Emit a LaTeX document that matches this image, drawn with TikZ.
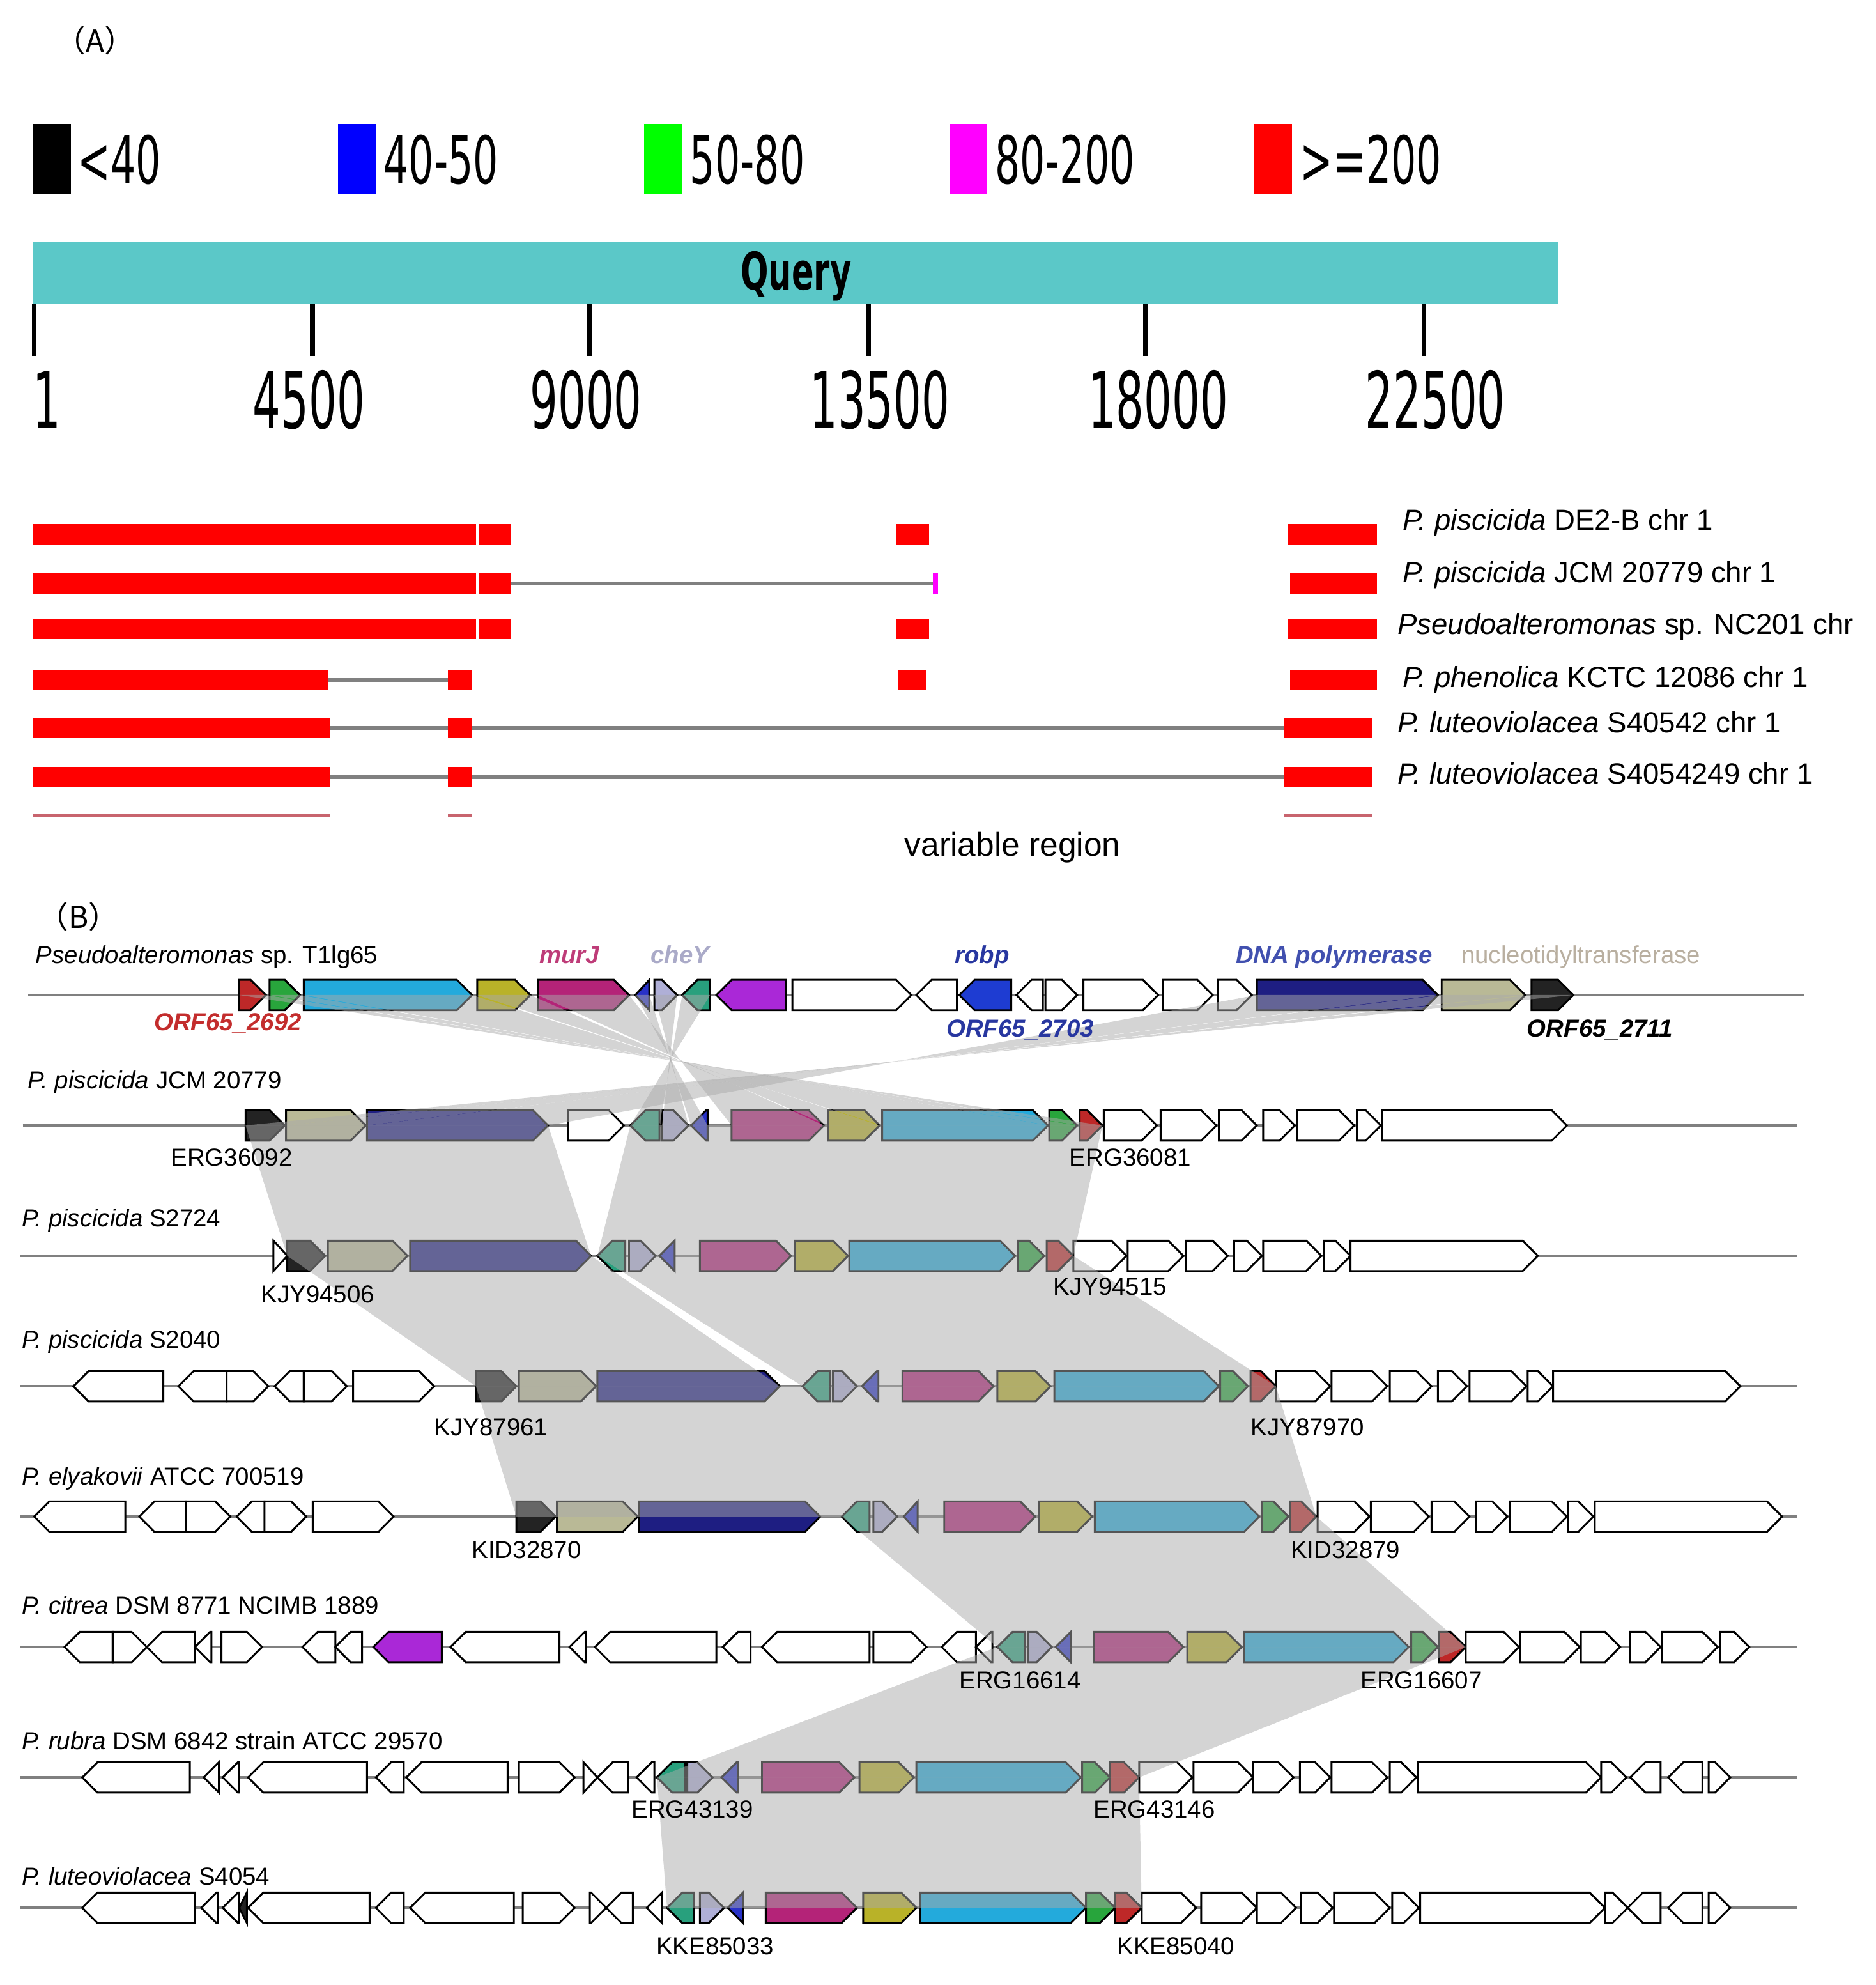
\documentclass[tikz,border=0pt]{standalone}
\usepackage{fontspec}
\usepackage{graphicx}
\setmainfont{Liberation Sans}
\newfontfamily\djv{DejaVu Sans}
\newfontfamily\cjk{Noto Sans CJK SC}
\definecolor{qcol}{RGB}{91,200,200}
\definecolor{lgray}{RGB}{128,128,128}
\definecolor{bandc}{RGB}{170,170,170}
\definecolor{pRed}{RGB}{255,0,0}
\definecolor{pGreen}{RGB}{0,255,0}
\definecolor{pBlue}{RGB}{0,0,255}
\definecolor{pMag}{RGB}{255,0,255}
\definecolor{cRed}{RGB}{190,40,40}
\definecolor{cGrn}{RGB}{40,165,60}
\definecolor{cCyan}{RGB}{35,170,220}
\definecolor{cOlive}{RGB}{185,178,40}
\definecolor{cMag}{RGB}{180,35,120}
\definecolor{cBlue}{RGB}{40,50,200}
\definecolor{cLav}{RGB}{175,175,215}
\definecolor{cTeal}{RGB}{40,160,125}
\definecolor{cPurp}{RGB}{170,40,215}
\definecolor{cRobp}{RGB}{30,60,210}
\definecolor{cNavy}{RGB}{30,30,130}
\definecolor{cKhaki}{RGB}{185,185,150}
\definecolor{cBlk}{RGB}{35,35,35}
\definecolor{tMur}{RGB}{190,60,120}
\definecolor{tChe}{RGB}{170,170,200}
\definecolor{tBlu}{RGB}{40,55,160}
\definecolor{tDna}{RGB}{65,80,175}
\definecolor{tNuc}{RGB}{185,175,160}
\definecolor{tOrf}{RGB}{195,45,45}
\definecolor{thinred}{RGB}{200,100,110}
\newcommand\genearrow[4]{%
  \pgfmathsetmacro\hl{min(12,#2-#1)}%
  \if#3R
    \filldraw[genestyle,fill=#4] (#1,\ry-12) -- ({#2-\hl},\ry-12) -- (#2,\ry) -- ({#2-\hl},\ry+12) -- (#1,\ry+12) -- cycle;
  \else
    \filldraw[genestyle,fill=#4] (#2,\ry-12) -- ({#1+\hl},\ry-12) -- (#1,\ry) -- ({#1+\hl},\ry+12) -- (#2,\ry+12) -- cycle;
  \fi}
\newcommand\xband[6]{\fill[bandstyle] (#3,#1) -- (#4,#1) -- (#5,#2) -- (#6,#2) -- cycle;}
\newcommand\pband[6]{\fill[bandstyle] (#3,#1) -- (#4,#1) -- (#6,#2) -- (#5,#2) -- cycle;}
\tikzset{
  genestyle/.style={draw=black,line width=1.5pt,line join=miter},
  bandstyle/.style={fill=bandc,fill opacity=0.5},
  bbone/.style={draw=lgray,line width=2pt},
  gapline/.style={draw=lgray,line width=3pt},
  lbl/.style={inner sep=0pt,anchor=base,font=\fontsize{19.4}{22}\selectfont},
  rlbl/.style={inner sep=0pt,anchor=base west,font=\fontsize{19.4}{22}\selectfont},
  albl/.style={inner sep=0pt,anchor=base west,font=\fontsize{23}{26}\selectfont},
  leg/.style={inner sep=0pt,anchor=west},
  tick/.style={draw=black,line width=4pt},
  tlbl/.style={inner sep=0pt},
}
\begin{document}
\begin{tikzpicture}[x=1pt,y=-1pt]
\useasboundingbox (0,0) rectangle (1482,1568);
% ---------------- (A) ----------------
\node[inner sep=0pt] (labA) at (75,32) {\cjk\fontsize{24}{28}\selectfont （A）};
% legend
\fill[black] (26,98) rectangle (56,153);
\fill[pBlue] (267,98) rectangle (297,153);
\fill[pGreen] (509,98) rectangle (539,153);
\fill[pMag] (750,98) rectangle (780,153);
\fill[pRed] (991,98) rectangle (1021,153);
\node[leg] (lg1) at (61,126) {\scalebox{0.6}[1]{\djv\fontsize{52}{60}\selectfont <40}};
\node[leg] (lg2) at (303,126) {\scalebox{0.6}[1]{\djv\fontsize{52}{60}\selectfont 40-50}};
\node[leg] (lg3) at (545,126) {\scalebox{0.6}[1]{\djv\fontsize{52}{60}\selectfont 50-80}};
\node[leg] (lg4) at (786,126) {\scalebox{0.6}[1]{\djv\fontsize{52}{60}\selectfont 80-200}};
\node[leg] (lg5) at (1027,126) {\scalebox{0.6}[1]{\djv\fontsize{52}{60}\selectfont >=200}};
% query bar
\fill[qcol] (26,191) rectangle (1231,240);
\node[inner sep=0pt,anchor=base] (query) at (629,229) {\scalebox{0.63}[1]{\djv\bfseries\fontsize{41}{46}\selectfont Query}};
\foreach \x in {27,247,466,686,905,1125} {\draw[tick] (\x,240) -- (\x,281);}
\node[tlbl] (t1) at (37,316) {\scalebox{0.56}[1]{\djv\fontsize{62}{70}\selectfont 1}};
\node[tlbl] (t2) at (244,316) {\scalebox{0.56}[1]{\djv\fontsize{62}{70}\selectfont 4500}};
\node[tlbl] (t3) at (463,316) {\scalebox{0.56}[1]{\djv\fontsize{62}{70}\selectfont 9000}};
\node[tlbl] (t4) at (695,316) {\scalebox{0.56}[1]{\djv\fontsize{62}{70}\selectfont 13500}};
\node[tlbl] (t5) at (915,316) {\scalebox{0.56}[1]{\djv\fontsize{62}{70}\selectfont 18000}};
\node[tlbl] (t6) at (1134,316) {\scalebox{0.56}[1]{\djv\fontsize{62}{70}\selectfont 22500}};
% hit rows
\draw[gapline] (404,461) -- (738,461);
\draw[gapline] (259,537) -- (354,537);
\draw[gapline] (261,575) -- (1014,575);
\draw[gapline] (261,614) -- (1014,614);
\foreach \y in {422,497} {
  \fill[pRed] (26,\y-8) rectangle (376,\y+8);
  \fill[pRed] (378,\y-8) rectangle (404,\y+8);
  \fill[pRed] (708,\y-8) rectangle (734,\y+8);
  \fill[pRed] (1017,\y-8) rectangle (1088,\y+8);
}
\fill[pRed] (26,453) rectangle (376,469);
\fill[pRed] (378,453) rectangle (404,469);
\fill[pMag] (737,453) rectangle (741,469);
\fill[pRed] (1019,453) rectangle (1088,469);
\fill[pRed] (26,529) rectangle (259,545);
\fill[pRed] (354,529) rectangle (373,545);
\fill[pRed] (710,529) rectangle (732,545);
\fill[pRed] (1019,529) rectangle (1088,545);
\foreach \y in {575,614} {
  \fill[pRed] (26,\y-8) rectangle (261,\y+8);
  \fill[pRed] (354,\y-8) rectangle (373,\y+8);
  \fill[pRed] (1014,\y-8) rectangle (1084,\y+8);
}
\fill[thinred] (26,643) rectangle (261,645);
\fill[thinred] (354,643) rectangle (373,645);
\fill[thinred] (1014,643) rectangle (1084,645);
\node[albl] (a1) at (1108,419) {\textit{P. piscicida} DE2-B chr 1};
\node[albl] (a2) at (1108,460) {\textit{P. piscicida} JCM 20779 chr 1};
\node[albl] (a3) at (1104,501) {\textit{Pseudoalteromonas} sp. NC201 chr};
\node[albl] (a4) at (1108,543) {\textit{P. phenolica} KCTC 12086 chr 1};
\node[albl] (a5) at (1104,579) {\textit{P. luteoviolacea} S40542 chr 1};
\node[albl] (a6) at (1104,619) {\textit{P. luteoviolacea} S4054249 chr 1};
\node[inner sep=0pt,anchor=base,font=\fontsize{26}{30}\selectfont] (varreg) at (800,676) {variable region};
% ---------------- (B) ----------------
\node[inner sep=0pt] (labB) at (62,724) {\cjk\fontsize{24}{28}\selectfont （B）};
% backbones
\draw[bbone] (22,786) -- (1425,786);
\draw[bbone] (18,889) -- (1420,889);
\foreach \y in {992,1095,1198,1301,1404,1507} {\draw[bbone] (16,\y) -- (1420,\y);}
% row 1
\def\ry{786}
\foreach \a/\b/\d/\c in {189/210/R/cRed,213/237/R/cGrn,240/373/R/cCyan,377/419/R/cOlive,425/497/R/cMag,502/513/L/cBlue,517/535/R/cLav,539/561/L/cTeal,566/621/L/cPurp,626/720/R/white,724/756/L/white,758/799/L/cRobp,803/824/L/white,826/851/R/white,856/915/R/white,919/958/R/white,962/989/R/white,993/1136/R/cNavy,1139/1205/R/cKhaki,1210/1243/R/cBlk}
  {\genearrow{\a}{\b}{\d}{\c}}
% row 2
\def\ry{889}
\foreach \a/\b/\d/\c in {194/225/R/cBlk,226/289/R/cKhaki,290/433/R/cNavy,449/493/R/white,498/521/L/cTeal,523/544/R/cLav,546/559/L/cBlue,578/651/R/cMag,654/695/R/cOlive,697/828/R/cCyan,829/851/R/cGrn,853/871/R/cRed,872/914/R/white,917/961/R/white,963/993/R/white,998/1023/R/white,1025/1070/R/white,1072/1091/R/white,1092/1238/R/white}
  {\genearrow{\a}{\b}{\d}{\c}}
% row 3
\def\ry{992}
\foreach \a/\b/\d/\c in {216/227/R/white,227/257/R/cBlk,259/322/R/cKhaki,324/467/R/cNavy,472/494/L/cTeal,497/518/R/cLav,521/533/L/cBlue,553/625/R/cMag,628/670/R/cOlive,671/802/R/cCyan,804/825/R/cGrn,827/848/R/cRed,848/890/R/white,891/935/R/white,937/970/R/white,975/997/R/white,998/1044/R/white,1046/1067/R/white,1067/1215/R/white}
  {\genearrow{\a}{\b}{\d}{\c}}
% row 4
\def\ry{1095}
\foreach \a/\b/\d/\c in {58/129/L/white,141/179/L/white,179/212/R/white,217/240/L/white,240/274/R/white,279/343/R/white,376/408/R/cBlk,410/471/R/cKhaki,472/616/R/cNavy,634/656/L/cTeal,658/677/R/cLav,681/694/L/cBlue,713/785/R/cMag,788/830/R/cOlive,833/963/R/cCyan,964/986/R/cGrn,988/1008/R/cRed,1008/1051/R/white,1052/1096/R/white,1098/1131/R/white,1136/1159/R/white,1161/1206/R/white,1207/1227/R/white,1227/1375/R/white}
  {\genearrow{\a}{\b}{\d}{\c}}
% row 5
\def\ry{1198}
\foreach \a/\b/\d/\c in {27/99/L/white,110/147/L/white,147/182/R/white,187/209/L/white,209/242/R/white,247/311/R/white,408/439/R/cBlk,440/504/R/cKhaki,505/648/R/cNavy,665/687/L/cTeal,690/709/R/cLav,714/725/L/cBlue,746/818/R/cMag,821/863/R/cOlive,865/995/R/cCyan,997/1018/R/cGrn,1019/1040/R/cRed,1041/1082/R/white,1083/1129/R/white,1131/1161/R/white,1166/1191/R/white,1193/1238/R/white,1239/1259/R/white,1260/1408/R/white}
  {\genearrow{\a}{\b}{\d}{\c}}
% row 6
\def\ry{1301}
\foreach \a/\b/\d/\c in {51/89/L/white,89/116/R/white,116/154/L/white,154/167/L/white,175/207/R/white,239/265/L/white,265/286/L/white,295/349/L/cPurp,356/442/L/white,450/463/L/white,470/566/L/white,571/593/L/white,602/687/L/white,690/732/R/white,744/771/L/white,771/784/L/white,788/810/L/cTeal,812/831/R/cLav,834/846/L/cBlue,864/935/R/cMag,938/981/R/cOlive,983/1113/R/cCyan,1115/1136/R/cGrn,1137/1158/R/cRed,1158/1200/R/white,1201/1248/R/white,1249/1280/R/white,1288/1312/R/white,1313/1357/R/white,1359/1382/R/white}
  {\genearrow{\a}{\b}{\d}{\c}}
% row 7
\def\ry{1404}
\foreach \a/\b/\d/\c in {65/150/L/white,161/173/L/white,176/189/L/white,196/290/L/white,297/319/L/white,321/401/L/white,410/454/R/white,461/472/R/white,472/496/L/white,503/517/L/white,519/541/L/cTeal,543/563/R/cLav,570/583/L/cBlue,602/675/R/cMag,679/722/R/cOlive,724/854/R/cCyan,855/877/R/cGrn,877/900/R/cRed,900/942/R/white,943/990/R/white,990/1022/R/white,1027/1051/R/white,1052/1096/R/white,1098/1119/R/white,1120/1265/R/white,1265/1285/R/white,1288/1312/L/white,1318/1345/L/white,1350/1367/R/white}
  {\genearrow{\a}{\b}{\d}{\c}}
% row 8
\def\ry{1507}
\foreach \a/\b/\d/\c in {65/154/L/white,159/172/L/white,176/189/L/white,189/195/L/cBlk,196/292/L/white,297/319/L/white,324/406/L/white,413/454/R/white,466/479/R/white,479/500/L/white,511/523/L/white,527/548/L/cTeal,553/572/R/cLav,575/587/L/cBlue,605/677/R/cMag,682/724/R/cOlive,727/858/R/cCyan,858/881/R/cGrn,881/902/R/cRed,902/945/R/white,949/993/R/white,993/1024/R/white,1028/1053/R/white,1054/1098/R/white,1100/1121/R/white,1122/1268/R/white,1268/1286/R/white,1286/1312/L/white,1318/1345/L/white,1350/1367/R/white}
  {\genearrow{\a}{\b}{\d}{\c}}
% homology bands
\foreach \a/\b/\c/\d in {189/210/853/871,213/237/829/851,240/373/697/828,377/419/654/695,425/497/578/651,502/513/546/559,517/535/523/544,539/561/498/521,993/1136/290/433,1139/1205/226/289,1210/1243/194/225}
  {\xband{786}{889}{\a}{\b}{\c}{\d}}
\pband{889}{992}{194}{433}{227}{467}
\pband{889}{992}{498}{871}{472}{848}
\pband{992}{1095}{227}{467}{376}{616}
\pband{992}{1095}{472}{848}{634}{1008}
\pband{1095}{1198}{376}{1008}{408}{1040}
\pband{1198}{1301}{665}{1040}{788}{1158}
\pband{1301}{1404}{788}{1158}{519}{900}
\pband{1404}{1507}{519}{900}{527}{902}
% row labels
\node[rlbl] (r1) at (28,761) {\textit{Pseudoalteromonas} sp. T1lg65};
\node[rlbl] (r2) at (22,860) {\textit{P. piscicida} JCM 20779};
\node[rlbl] (r3) at (17,969) {\textit{P. piscicida} S2724};
\node[rlbl] (r4) at (17,1065) {\textit{P. piscicida} S2040};
\node[rlbl] (r5) at (17,1173) {\textit{P. elyakovii} ATCC 700519};
\node[rlbl] (r6) at (17,1275) {\textit{P. citrea} DSM 8771 NCIMB 1889};
\node[rlbl] (r7) at (17,1382) {\textit{P. rubra} DSM 6842 strain ATCC 29570};
\node[rlbl] (r8) at (17,1489) {\textit{P. luteoviolacea} S4054};
% gene names
\node[lbl,text=tMur] (murJ) at (450,761) {\textbf{\textit{murJ}}};
\node[lbl,text=tChe] (cheY) at (538,761) {\textbf{\textit{cheY}}};
\node[lbl,text=tBlu] (robp) at (776,761) {\textbf{\textit{robp}}};
\node[lbl,text=tDna] (dnap) at (1054,761) {\textbf{\textit{DNA polymerase}}};
\node[lbl,text=tNuc] (nuct) at (1249,761) {nucleotidyltransferase};
\node[lbl,text=tOrf] (o2692) at (180,814) {\textbf{\textit{ORF65\_2692}}};
\node[lbl,text=tBlu] (o2703) at (806,819) {\textbf{\textit{ORF65\_2703}}};
\node[lbl,text=black] (o2711) at (1264,819) {\textbf{\textit{ORF65\_2711}}};
\node[lbl] (g1) at (183,921) {ERG36092};
\node[lbl] (g2) at (893,921) {ERG36081};
\node[lbl] (g3) at (251,1029) {KJY94506};
\node[lbl] (g4) at (877,1023) {KJY94515};
\node[lbl] (g5) at (388,1134) {KJY87961};
\node[lbl] (g6) at (1033,1134) {KJY87970};
\node[lbl] (g7) at (416,1231) {KID32870};
\node[lbl] (g8) at (1063,1231) {KID32879};
\node[lbl] (g9) at (806,1334) {ERG16614};
\node[lbl] (g10) at (1123,1334) {ERG16607};
\node[lbl] (g11) at (547,1436) {ERG43139};
\node[lbl] (g12) at (912,1436) {ERG43146};
\node[lbl] (g13) at (565,1544) {KKE85033};
\node[lbl] (g14) at (929,1544) {KKE85040};
\end{tikzpicture}
\end{document}
